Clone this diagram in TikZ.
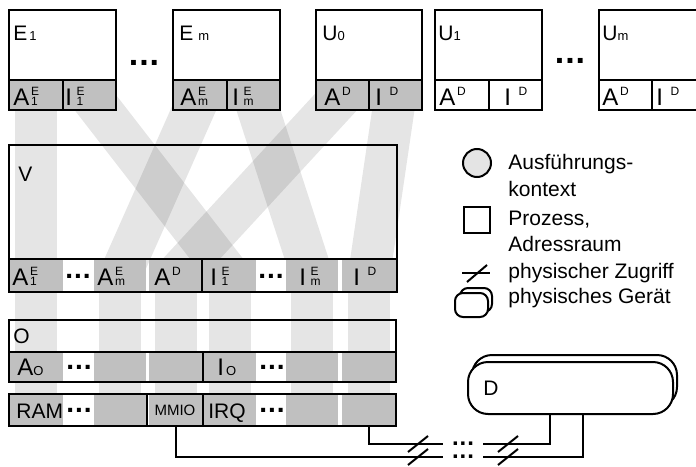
\documentclass[tikz,border=0pt]{standalone}
\usepackage{fontspec}
\setmainfont{Liberation Sans}
\usetikzlibrary{fit,calc}

\definecolor{cellgray}{HTML}{C0C0C0}
\definecolor{ctxgray}{HTML}{E4E4E4}

% text sizes
\newcommand\lblfont{\fontsize{10.5}{12}\selectfont}
\newcommand\cellfont{\fontsize{12}{13}\selectfont}
\newcommand\supfont{\fontsize{6}{6}\selectfont}
\newcommand\idxfont{\fontsize{6.5}{7}\selectfont}
% symbol with stacked super- and subscript
\newcommand\tensym[3]{#1\kern.8pt\rlap{\raisebox{4.9pt}{\supfont #2}}{\supfont #3}}
\newcommand\dotrow{\textbf{.\kern.5pt.\kern.5pt.}}

\pgfdeclarelayer{paper}
\pgfdeclarelayer{bands}
\pgfsetlayers{paper,bands,main}

\tikzset{
  box/.style={draw, line width=1.3pt, inner sep=0pt, outer sep=0pt},
  rule/.style={line width=1.3pt},
  gcell/.style={fill=cellgray, inner sep=0pt, outer sep=0pt},
  wcell/.style={fill=white, inner sep=0pt, outer sep=0pt},
  band/.style={draw=black, draw opacity=0.1, line width=21pt, line cap=butt},
  txt/.style={anchor=base west, inner sep=0pt, font=\lblfont},
  ctxt/.style={anchor=base west, inner sep=0pt, font=\cellfont},
  dotsn/.style={inner sep=0pt, font=\fontsize{14}{14}\selectfont},
  bigdots/.style={inner sep=0pt, font=\fontsize{17}{17}\selectfont},
  wire/.style={line width=1pt},
  legline/.style={line width=1pt},
}

\begin{document}
\begin{tikzpicture}[x=0.5pt,y=-0.5pt]
\begin{pgfonlayer}{paper}
  \fill[white] (0,0) rectangle (696,466);
\end{pgfonlayer}
\path[use as bounding box] (0,0) rectangle (696,466);

% ---------- processes in the top row ----------
% E_1
\node[gcell, fit={(9,80)(63,110)}] (e1a) {};
\node[gcell, fit={(63,80)(116,110)}] (e1i) {};
\node[box, fit={(9,10)(116,110)}] (e1) {};
\draw[rule] (e1a.north west) -- (e1i.north east) (e1a.north east) -- (e1a.south east);
\node[txt] (e1t) at (13,40) {E\kern1pt{\idxfont 1}};
\node[ctxt] (e1al) at (13,105) {\tensym{A}{E}{1}};
\node[ctxt] (e1il) at (65,105) {\tensym{I\kern1.5pt}{E}{1}};

\node[bigdots] (topdots1) at (144,63) {\dotrow};

% E_m
\node[gcell, fit={(173,80)(227,110)}] (ema) {};
\node[gcell, fit={(227,80)(280,110)}] (emi) {};
\node[box, fit={(173,10)(280,110)}] (em) {};
\draw[rule] (ema.north west) -- (emi.north east) (ema.north east) -- (ema.south east);
\node[txt] (emt) at (179,40) {E\kern2.5pt{\idxfont m}};
\node[ctxt] (emal) at (180,105) {\tensym{A}{E}{m}};
\node[ctxt] (emil) at (232,105) {\tensym{I\kern1.5pt}{E}{m}};

% U_0
\node[gcell, fit={(316,80)(369,110)}] (u0a) {};
\node[gcell, fit={(369,80)(422,110)}] (u0i) {};
\node[box, fit={(316,10)(422,110)}] (u0) {};
\draw[rule] (u0a.north west) -- (u0i.north east) (u0a.north east) -- (u0a.south east);
\node[txt] (u0t) at (322,40) {U{\idxfont 0}};
\node[ctxt] (u0al) at (324,105) {\tensym{A}{D}{}};
\node[ctxt] (u0il) at (375,105) {\tensym{I\kern3pt}{D}{}};

% U_1
\node[wcell, fit={(435,80)(489,110)}] (u1a) {};
\node[wcell, fit={(489,80)(542,110)}] (u1i) {};
\node[box, fit={(435,10)(542,110)}] (u1) {};
\draw[rule] (u1a.north west) -- (u1i.north east) (u1a.north east) -- (u1a.south east);
\node[txt] (u1t) at (438,40) {U{\idxfont 1}};
\node[ctxt] (u1al) at (439,105) {\tensym{A}{D}{}};
\node[ctxt] (u1il) at (504,105) {\tensym{I\kern3pt}{D}{}};

\node[bigdots] (topdots2) at (570,61) {\dotrow};

% U_m
\node[wcell, fit={(599,80)(652,110)}] (uma) {};
\node[wcell, fit={(652,80)(706,110)}] (umi) {};
\node[box, fit={(599,10)(706,110)}] (um) {};
\draw[rule] (uma.north west) -- (umi.north east) (uma.north east) -- (uma.south east);
\node[txt] (umt) at (602,40) {U{\idxfont m}};
\node[ctxt] (umal) at (602,105) {\tensym{A}{D}{}};
\node[ctxt] (umil) at (656,105) {\tensym{I\kern3pt}{D}{}};

% ---------- slot rows of V, O and the hardware ----------
\foreach \r/\ya/\yb in {v/259/292, o/352/382, r/394/426} {
  \node[gcell, fit={(9,\ya)(63,\yb)}]    (\r c1) {};
  \node[wcell, fit={(63,\ya)(94,\yb)}]   (\r d1) {};
  \node[gcell, fit={(94,\ya)(146,\yb)}]  (\r c2) {};
  \node[gcell, fit={(149,\ya)(203,\yb)}] (\r c3) {};
  \node[gcell, fit={(203,\ya)(256,\yb)}] (\r c4) {};
  \node[wcell, fit={(256,\ya)(286,\yb)}] (\r d2) {};
  \node[gcell, fit={(286,\ya)(338,\yb)}] (\r c5) {};
  \node[gcell, fit={(342,\ya)(396,\yb)}] (\r c6) {};
}

% V
\node[box, fit={(9,145)(397,292)}] (v) {};
\node[box, fit={(9,259)(202,292)}] (va) {};
\node[box, fit={(202,259)(397,292)}] (vi) {};
\node[txt] (vt) at (18,181) {V};
\node[ctxt] (vl1) at (12,285) {\tensym{A}{E}{1}};
\node[dotsn] (vdots1) at (78,276) {\dotrow};
\node[ctxt] (vl2) at (97,285) {\tensym{A}{E}{m}};
\node[ctxt] (vl3) at (154,285) {\tensym{A}{D}{}};
\node[ctxt] (vl4) at (210,285) {\tensym{I\kern1.5pt}{E}{1}};
\node[dotsn] (vdots2) at (271,276) {\dotrow};
\node[ctxt] (vl5) at (299,285) {\tensym{I\kern1.5pt}{E}{m}};
\node[ctxt] (vl6) at (353,285) {\tensym{I\kern3pt}{D}{}};

% O
\node[box, fit={(9,320)(396,382)}] (o) {};
\node[box, fit={(9,352)(203,382)}] (oa) {};
\node[box, fit={(203,352)(396,382)}] (oi) {};
\node[txt] (ot) at (13,343) {O};
\node[ctxt] (ol1) at (17,375) {A{\idxfont O}};
\node[dotsn] (odots1) at (79,367) {\dotrow};
\node[ctxt] (ol2) at (217,375) {I\kern1pt{\idxfont O}};
\node[dotsn] (odots2) at (272,367) {\dotrow};

% hardware resources
\node[box, fit={(9,394)(147,426)}] (ram) {};
\node[box, fit={(147,394)(203,426)}] (mmio) {};
\node[box, fit={(203,394)(396,426)}] (irq) {};
\node[txt] (raml) at (16,418) {RAM};
\node[dotsn] (rdots1) at (79,410) {\dotrow};
\node[anchor=base, inner sep=0pt, font=\fontsize{7.5}{8}\selectfont] (mmiol) at (175,415) {MMIO};
\node[txt] (irql) at (208,418) {IRQ};
\node[dotsn] (rdots2) at (272,410) {\dotrow};

% ---------- translucent mapping bands ----------
\begin{pgfonlayer}{bands}
  \draw[band] (e1a.center) -- (vc1.center);
  \draw[band] (e1i.center) -- (vc4.center);
  \draw[band] (ema.center) -- (vc2.center);
  \draw[band] (emi.center) -- (vc5.center);
  \draw[band] (u0a.center) -- (vc3.center);
  \draw[band] (u0i.center) -- (vc6.center);
  \foreach \i in {1,...,6} {
    \draw[band] (vc\i.center) -- (rc\i.center);
  }
\end{pgfonlayer}

% ---------- device D ----------
\node[box, line width=1pt, fill=white, rounded corners=10pt, fit={(472,355)(677,407)}] (devback) {};
\node[box, line width=1pt, fill=white, rounded corners=10pt, fit={(468,362)(673,414)}] (dev) {};
\node[txt] (devl) at (483,395) {D};

% ---------- physical access wires ----------
\coordinate (mL) at (443,457);
\coordinate (mR) at (483,457);
\coordinate (qL) at (443,444);
\coordinate (qR) at (483,444);
\draw[wire] (rc3.south) |- (mL);
\draw[wire] (mR) -| ($(dev.south)+(12.5,0)$);
\draw[wire] (rc6.south) |- (qL);
\draw[wire] (qR) -| ($(dev.south)+(-20.5,0)$);
\foreach \x in {418,508} {
  \foreach \y in {444,457} {
    \draw[wire] (\x-10,\y+8) -- (\x+10,\y-8);
  }
}
\node[inner sep=0pt, font=\fontsize{12}{12}\selectfont] (wdots1) at (463,444) {\dotrow};
\node[inner sep=0pt, font=\fontsize{12}{12}\selectfont] (wdots2) at (463,457) {\dotrow};

% ---------- legend ----------
\node[circle, draw, legline, fill=ctxgray, minimum size=14pt, inner sep=0pt] (lgctx) at (477,163) {};
\node[txt] (lgt1) at (508,169) {Ausführungs-};
\node[txt] (lgt2) at (508,196) {kontext};
\node[draw, legline, minimum size=13pt, inner sep=0pt] (lgproc) at (477,220) {};
\node[txt] (lgt3) at (508,225) {Prozess,};
\node[txt] (lgt4) at (508,251) {Adressraum};
\coordinate (lgaL) at (462,273);
\coordinate (lgaR) at (490,273);
\draw[legline] (lgaL) -- (lgaR);
\draw[legline] (467,282) -- (487,265);
\node[txt] (lgt5) at (508,278) {physischer Zugriff};
\node[draw, legline, fill=white, rounded corners=4pt, inner sep=0pt, fit={(460,288)(492,312)}] (lgdevb) {};
\node[draw, legline, fill=white, rounded corners=4pt, inner sep=0pt, fit={(455,293)(488,317)}] (lgdev) {};
\node[txt] (lgt6) at (508,303) {physisches Gerät};
\end{tikzpicture}
\end{document}
